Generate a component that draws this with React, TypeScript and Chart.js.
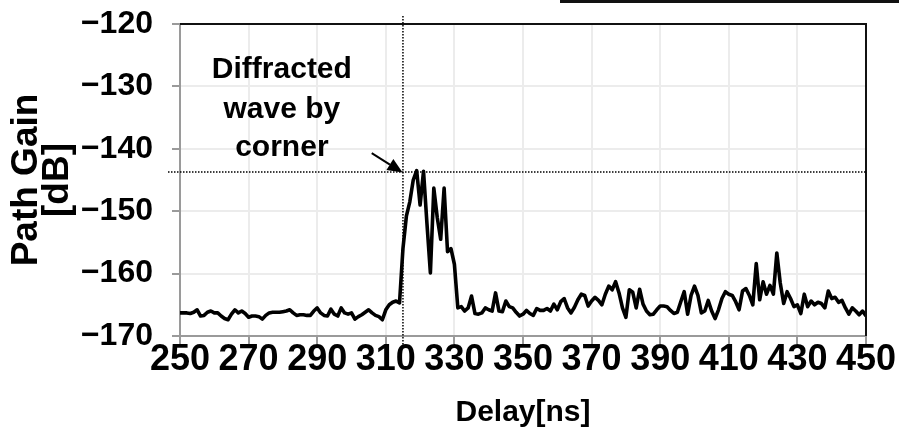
import React, { useEffect, useRef } from "react";
import { Chart, registerables } from "chart.js";

Chart.register(...registerables);

const FONT = '"Liberation Sans", Arial, Helvetica, sans-serif';

// ---- data ----
const delayStart = 250; // ns
const delayStep = 1; // ns
const pathGain: number[] = [
  // 250-259
  -166.3, -166.3, -166.3, -166.4, -166.2, -165.8, -166.8, -166.7, -166.2, -166.0,
  // 260-269
  -166.3, -166.3, -166.8, -167.2, -167.4, -166.5, -165.8, -166.3, -166.0, -166.4,
  // 270-279
  -167.0, -166.8, -166.8, -166.9, -167.3, -166.7, -166.3, -166.2, -166.2, -166.2,
  // 280-289
  -166.1, -166.0, -165.8, -166.3, -166.7, -166.6, -166.6, -166.7, -166.7, -166.0,
  // 290-299
  -165.5, -166.3, -166.7, -166.8, -165.7, -166.5, -166.8, -165.5, -166.3, -166.5,
  // 300-309
  -166.3, -167.3, -166.9, -166.6, -166.2, -165.8, -166.3, -166.7, -166.9, -167.4,
  // 310-319
  -165.8, -165.0, -164.6, -164.4, -164.7, -156.0, -150.8, -148.5, -145.0, -143.5,
  // 320-329
  -149.0, -143.6, -152.0, -159.9, -146.3, -151.0, -154.5, -146.3, -156.5, -156.0,
  // 330-339
  -158.5, -165.5, -165.3, -166.0, -165.5, -163.6, -166.4, -166.5, -166.3, -165.5,
  // 340-349
  -165.8, -166.0, -163.1, -166.0, -166.1, -164.4, -165.3, -165.5, -166.2, -166.8,
  // 350-359
  -166.5, -165.9, -166.4, -166.7, -165.6, -165.9, -165.9, -165.6, -166.0, -164.9,
  // 360-369
  -165.8, -164.5, -164.0, -165.5, -166.3, -165.4, -164.2, -163.3, -163.5, -165.2,
  // 370-379
  -164.4, -163.8, -164.3, -165.0, -163.3, -162.0, -162.6, -161.3, -163.1, -165.5,
  // 380-389
  -167.0, -162.6, -163.0, -165.5, -162.5, -164.9, -166.0, -166.6, -166.5, -165.8,
  // 390-399
  -165.2, -165.2, -165.3, -165.9, -166.4, -166.2, -164.5, -162.9, -166.5, -163.5,
  // 400-409
  -162.0, -163.5, -166.3, -166.0, -164.3, -166.0, -167.2, -165.8, -164.0, -162.9,
  // 410-419
  -163.3, -163.5, -164.5, -165.8, -162.8, -162.4, -163.5, -165.0, -158.4, -164.2,
  // 420-429
  -161.3, -163.3, -161.9, -163.3, -156.7, -161.5, -164.8, -162.9, -164.0, -165.3,
  // 430-439
  -165.0, -166.4, -163.3, -165.3, -164.4, -165.0, -164.6, -164.8, -165.5, -162.8,
  // 440-450
  -164.0, -163.8, -164.6, -164.3, -165.5, -166.5, -165.5, -166.0, -166.6, -166.0, -166.8,
];

const xTickValues = [250, 270, 290, 310, 330, 350, 370, 390, 410, 430, 450];
const yTickValues = [-170, -160, -150, -140, -130, -120];
const xTitle = "Delay[ns]";
const yTitle = ["Path Gain", "[dB]"];

// annotation (data coordinates)
const noteLines = ["Diffracted", "wave by", "corner"];
const noteDelay = 279.7;
const noteGains = [-128.7, -135.0, -141.1];
const arrowTail = { delay: 305.9, gain: -140.7 };
const arrowHead = { delay: 314.9, gain: -143.8 };
const markerDelay = 315;
const markerGain = -143.7;

const overlayPlugin = {
  id: "overlay",
  afterDatasetsDraw(chart: any) {
    const { ctx, chartArea, scales } = chart;
    const x = scales.x;
    const y = scales.y;
    ctx.save();

    // frame: top & right
    ctx.strokeStyle = "#111";
    ctx.lineWidth = 2;
    ctx.beginPath();
    ctx.moveTo(chartArea.left, chartArea.top);
    ctx.lineTo(chartArea.right, chartArea.top);
    ctx.lineTo(chartArea.right, chartArea.bottom);
    ctx.stroke();

    // dotted marker lines
    const mx = x.getPixelForValue(markerDelay);
    const my = y.getPixelForValue(markerGain);
    ctx.strokeStyle = "#000";
    ctx.lineWidth = 1.5;
    ctx.setLineDash([1.5, 1.5]);
    ctx.beginPath();
    ctx.moveTo(mx, chartArea.top - 8);
    ctx.lineTo(mx, chartArea.bottom + 10);
    ctx.stroke();
    ctx.beginPath();
    ctx.moveTo(chartArea.left - 12, my);
    ctx.lineTo(chartArea.right, my);
    ctx.stroke();
    ctx.setLineDash([]);

    // arrow
    const tx = x.getPixelForValue(arrowTail.delay);
    const ty = y.getPixelForValue(arrowTail.gain);
    const hx = x.getPixelForValue(arrowHead.delay);
    const hy = y.getPixelForValue(arrowHead.gain);
    const ang = Math.atan2(hy - ty, hx - tx);
    const headLen = 15;
    const headW = 6.5;
    const bx = hx - headLen * Math.cos(ang);
    const by = hy - headLen * Math.sin(ang);
    ctx.strokeStyle = "#000";
    ctx.fillStyle = "#000";
    ctx.lineWidth = 2;
    ctx.beginPath();
    ctx.moveTo(tx, ty);
    ctx.lineTo(bx, by);
    ctx.stroke();
    ctx.beginPath();
    ctx.moveTo(hx, hy);
    ctx.lineTo(bx + headW * Math.sin(ang), by - headW * Math.cos(ang));
    ctx.lineTo(bx - headW * Math.sin(ang), by + headW * Math.cos(ang));
    ctx.closePath();
    ctx.fill();

    // note text
    ctx.font = `bold 30px ${FONT}`;
    ctx.textAlign = "center";
    ctx.textBaseline = "alphabetic";
    const nx = x.getPixelForValue(noteDelay);
    noteLines.forEach((line, i) => {
      ctx.fillText(line, nx, y.getPixelForValue(noteGains[i]));
    });

    // stray box edge at top-right of the picture
    ctx.strokeStyle = "#111";
    ctx.lineWidth = 3;
    ctx.beginPath();
    ctx.moveTo(560, 1.5);
    ctx.lineTo(chart.width, 1.5);
    ctx.stroke();

    ctx.restore();
  },
};

export default function App() {
  const canvasRef = useRef<HTMLCanvasElement | null>(null);

  useEffect(() => {
    const canvas = canvasRef.current;
    if (!canvas) return;
    const points = pathGain.map((g, i) => ({ x: delayStart + i * delayStep, y: g }));

    const chart = new Chart(canvas, {
      type: "line",
      data: {
        datasets: [
          {
            data: points,
            borderColor: "#000",
            borderWidth: 3.6,
            borderJoinStyle: "round",
            pointRadius: 0,
            tension: 0,
            fill: false,
          },
        ],
      },
      options: {
        responsive: false,
        animation: false,
        events: [],
        layout: { padding: { left: 0, top: 24, right: 33, bottom: 0 } },
        plugins: {
          legend: { display: false },
          tooltip: { enabled: false },
        },
        scales: {
          x: {
            type: "linear",
            min: 250,
            max: 450,
            afterBuildTicks: (scale: any) => {
              scale.ticks = xTickValues.map((v) => ({ value: v }));
            },
            afterFit: (scale: any) => {
              scale.height = 100;
              scale.paddingLeft = 0;
              scale.paddingRight = 0;
            },
            ticks: {
              autoSkip: false,
              maxRotation: 0,
              minRotation: 0,
              padding: -2,
              color: "#000",
              font: { family: FONT, size: 36, weight: "bold", lineHeight: 1 },
            },
            grid: {
              color: "#ececec",
              lineWidth: 2,
              tickColor: "#9a9a9a",
              tickLength: 8,
            },
            border: { color: "#9a9a9a", width: 2 },
            title: {
              display: true,
              text: xTitle,
              color: "#000",
              padding: { top: 0, bottom: 5 },
              font: { family: FONT, size: 30, weight: "bold", lineHeight: 1.2 },
            },
          },
          y: {
            type: "linear",
            min: -170,
            max: -120,
            afterBuildTicks: (scale: any) => {
              scale.ticks = yTickValues.map((v) => ({ value: v }));
            },
            afterFit: (scale: any) => {
              scale.width = 180;
              scale.paddingTop = 0;
              scale.paddingBottom = 0;
            },
            ticks: {
              padding: 19,
              color: "#000",
              font: { family: FONT, size: 32, weight: "bold", lineHeight: 1.1 },
              callback: (v: any) => String(v).replace("-", "\u2212"),
            },
            grid: {
              color: "#ececec",
              lineWidth: 2,
              tickColor: "#9a9a9a",
              tickLength: 8,
            },
            border: { color: "#9a9a9a", width: 2 },
            title: {
              display: true,
              text: yTitle,
              color: "#000",
              padding: { top: 12, bottom: 0 },
              font: { family: FONT, size: 37, weight: "bold", lineHeight: 0.82 },
            },
          },
        },
      },
      plugins: [overlayPlugin],
    });

    return () => chart.destroy();
  }, []);

  return (
    <div style={{ position: "absolute", left: 0, top: 0, width: 899, height: 436, background: "#fff" }}>
      <canvas ref={canvasRef} width={899} height={436} style={{ display: "block" }} />
    </div>
  );
}
